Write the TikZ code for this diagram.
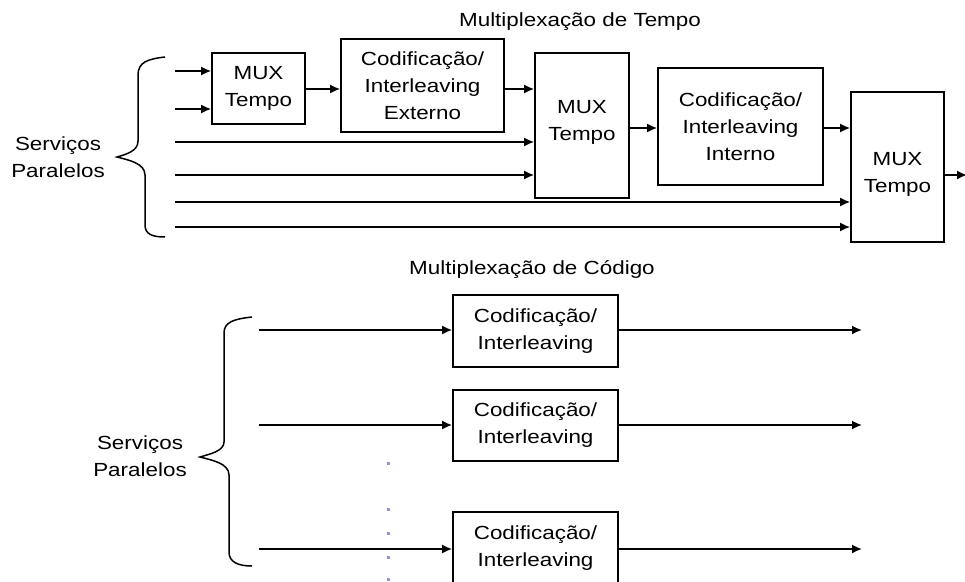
\documentclass[tikz,border=0pt]{standalone}
\usepackage{fontspec}
\setmainfont[FakeStretch=1.18]{Liberation Sans}
\usetikzlibrary{arrows.meta}
\definecolor{dotcol}{RGB}{150,150,205}
\begin{document}
\begin{tikzpicture}[x=1pt,y=-1pt,
  font=\fontsize{19}{27}\selectfont,
  blk/.style={draw,line width=1.7pt,inner sep=0pt,align=center},
  arr/.style={line width=1.7pt,-{Latex[length=10pt,width=9pt]}},
  brace/.style={line width=1.5pt},
  lbl/.style={align=center,inner sep=0pt}]
\useasboundingbox (0,0) rectangle (965,581);
\clip (0,0) rectangle (965,581);

% ---------- time multiplexing ----------
\node[lbl] (ttitle) at (580,22) {Multiplexação de Tempo};
\node[lbl] (tserv) at (58,157) {Serviços\\Paralelos};
\draw[brace] (165,57) .. controls (148,59) and (138,62) .. (138,75) -- (138,141)
  .. controls (138,151) and (127,154) .. (117,157)
  .. controls (128,160) and (145,163) .. (145,175) -- (145,225)
  .. controls (145,234) and (152,237) .. (165,237);

\node[blk,minimum width=93pt,minimum height=71pt]  (mux1) at (258.5,88.5) {MUX\\Tempo};
\node[blk,minimum width=163pt,minimum height=93pt] (cod1) at (422.5,85.5) {Codificação/\\Interleaving\\Externo};
\node[blk,minimum width=94pt,minimum height=145pt,
  label={[lbl,yshift=3pt]center:MUX\\Tempo}] (mux2) at (582,125.5) {};
\node[blk,minimum width=165pt,minimum height=117pt] (cod2) at (740.5,126.5) {Codificação/\\Interleaving\\Interno};
\node[blk,minimum width=93pt,minimum height=150pt,
  label={[lbl,yshift=-7pt]center:MUX\\Tempo}] (mux3) at (897.5,167) {};

% inputs
\coordinate (i1) at (175,71);
\coordinate (i2) at (175,109);
\coordinate (i3) at (175,142);
\coordinate (i4) at (175,175);
\coordinate (i5) at (175,202);
\coordinate (i6) at (175,227);
\draw[arr] (i1) -- (i1 -| mux1.west);
\draw[arr] (i2) -- (i2 -| mux1.west);
\draw[arr] (i3) -- (i3 -| mux2.west);
\draw[arr] (i4) -- (i4 -| mux2.west);
\draw[arr] (i5) -- (i5 -| mux3.west);
\draw[arr] (i6) -- (i6 -| mux3.west);

% chain
\coordinate (c1) at (0,89);
\coordinate (c2) at (0,128);
\coordinate (c3) at (0,175);
\coordinate (tout) at (967,175);
\draw[arr] (c1 -| mux1.east) -- (c1 -| cod1.west);
\draw[arr] (c1 -| cod1.east) -- (c1 -| mux2.west);
\draw[arr] (c2 -| mux2.east) -- (c2 -| cod2.west);
\draw[arr] (c2 -| cod2.east) -- (c2 -| mux3.west);
\draw[arr] (c3 -| mux3.east) -- (tout);

% ---------- code multiplexing ----------
\node[lbl] (ctitle) at (532,270) {Multiplexação de Código};
\node[lbl] (cserv) at (140,456) {Serviços\\Paralelos};
\draw[brace] (252,317) .. controls (234,319) and (224,322) .. (224,333) -- (224,442)
  .. controls (224,451) and (210,454) .. (200,457)
  .. controls (211,460) and (229,463) .. (229,475) -- (229,552)
  .. controls (229,562) and (238,566) .. (252,566);

\node[blk,minimum width=165pt,minimum height=72pt] (b1) at (535.5,331) {Codificação/\\Interleaving};
\node[blk,minimum width=165pt,minimum height=71pt] (b2) at (535.5,425.5) {Codificação/\\Interleaving};
\node[blk,minimum width=165pt,minimum height=72pt] (b3) at (535.5,548) {Codificação/\\Interleaving};

\coordinate (j1) at (259,330);
\coordinate (j2) at (259,425);
\coordinate (j3) at (259,549);
\coordinate (o1) at (862,330);
\coordinate (o2) at (862,425);
\coordinate (o3) at (862,549);
\draw[arr] (j1) -- (j1 -| b1.west);
\draw[arr] (j2) -- (j2 -| b2.west);
\draw[arr] (j3) -- (j3 -| b3.west);
\draw[arr] (j1 -| b1.east) -- (o1);
\draw[arr] (j2 -| b2.east) -- (o2);
\draw[arr] (j3 -| b3.east) -- (o3);

% ellipsis dots between the channels
\foreach \y in {463,509,533,557,579}
  \fill[dotcol] (386.5,\y-1.5) rectangle ++(3,3);
\end{tikzpicture}
\end{document}
